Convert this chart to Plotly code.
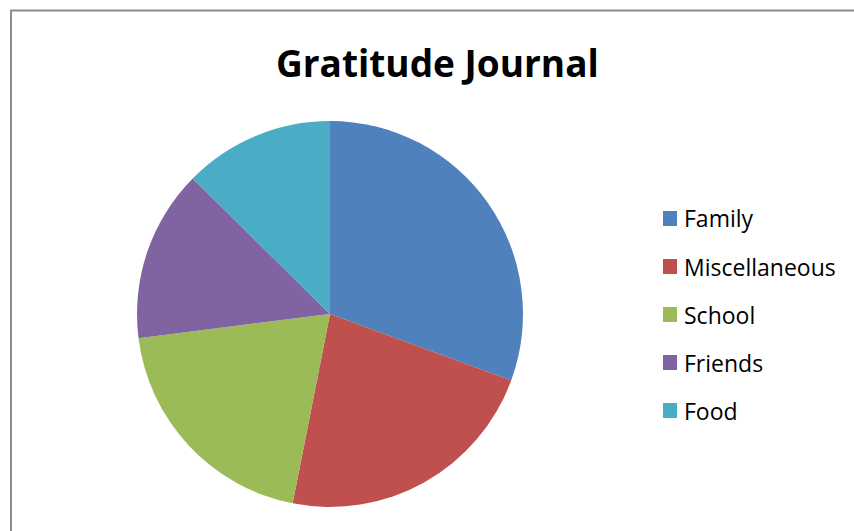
import plotly.graph_objects as go

labels = ["Family", "Miscellaneous", "School", "Friends", "Food"]
values = [30.6, 22.5, 19.9, 14.4, 12.6]
colors = ["#4F81BD", "#C0504D", "#9BBB59", "#8064A2", "#4BACC6"]
title_text = "Gratitude Journal"

W, H = 854, 531

def px(x):
    return x / W

def py(y):
    return 1 - y / H

fig = go.Figure()
fig.add_trace(go.Pie(
    labels=labels,
    values=values,
    marker=dict(colors=colors, line=dict(width=0)),
    sort=False,
    direction="clockwise",
    rotation=0,
    textinfo="none",
    hoverinfo="label+value+percent",
    showlegend=False,
    domain=dict(x=[px(137), px(523)], y=[py(507), py(121)]),
))

shapes = [dict(type="rect", xref="paper", yref="paper",
               x0=px(11), x1=px(W + 10), y0=py(H + 10), y1=py(10.5),
               line=dict(color="#8c8c8c", width=2), fillcolor="rgba(0,0,0,0)")]
annotations = [dict(text="<b>" + title_text + "</b>", xref="paper", yref="paper",
                    x=px(437), y=py(62), xanchor="center", yanchor="middle",
                    showarrow=False, font=dict(family="Open Sans", size=37, color="#000000"))]

row0, gap = 218.5, 48
for i, (lab, col) in enumerate(zip(labels, colors)):
    yc = row0 + i * gap
    shapes.append(dict(type="rect", xref="paper", yref="paper",
                       x0=px(663), x1=px(677), y0=py(yc + 7.5), y1=py(yc - 7.5),
                       line=dict(width=0), fillcolor=col))
    annotations.append(dict(text=lab, xref="paper", yref="paper",
                            x=px(682), y=py(yc), xanchor="left", yanchor="middle",
                            showarrow=False, font=dict(family="Open Sans", size=23, color="#000000")))

fig.update_layout(
    width=W, height=H,
    margin=dict(l=0, r=0, t=0, b=0),
    paper_bgcolor="white", plot_bgcolor="white",
    shapes=shapes, annotations=annotations,
)

fig.write_html("out.html", config={"displayModeBar": False},
               post_script="document.body.style.margin='0px';")
